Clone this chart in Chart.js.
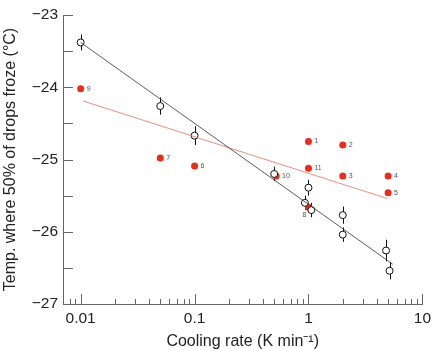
<!DOCTYPE html>
<html>
<head>
<meta charset="utf-8">
<script src="https://cdn.jsdelivr.net/npm/chart.js@4.4.0/dist/chart.umd.min.js"></script>
<style>
  html, body { margin: 0; padding: 0; background: #fff; }
  #wrap { width: 436px; height: 351px; position: relative; }
</style>
</head>
<body>
<div id="wrap"><canvas id="chart"></canvas></div>
<script>
// open circles (with error bars)
const openX = [0.01, 0.05, 0.1, 0.5, 1, 0.93, 1.06, 2, 2, 4.8, 5.15];
const openY = [-23.38, -24.26, -24.67, -25.20, -25.39, -25.60, -25.70, -25.77, -26.04, -26.26, -26.54];
const openErr = [0.11, 0.12, 0.13, 0.1, 0.11, 0.1, 0.1, 0.12, 0.1, 0.15, 0.12];

// red numbered points
const redLabels = ['1', '2', '3', '4', '5', '6', '7', '8', '9', '10', '11'];
const redX = [1, 2, 2, 5, 5, 0.1, 0.05, 1, 0.01, 0.52, 1];
const redY = [-24.75, -24.80, -25.23, -25.23, -25.46, -25.09, -24.98, -25.66, -24.02, -25.23, -25.12];

// fit lines
const blackFitX = [0.01, 5.5];
const blackFitY = [-23.38, -26.45];
const redFitX = [0.0105, 4.9];
const redFitY = [-24.19, -25.54];

const xMajor = [0.01, 0.1, 1, 10];
const xMinor = [0.007, 0.008, 0.009, 0.02, 0.03, 0.04, 0.05, 0.06, 0.07, 0.08, 0.09,
  0.2, 0.3, 0.4, 0.5, 0.6, 0.7, 0.8, 0.9, 2, 3, 4, 5, 6, 7, 8, 9];
const yTicks = [-27, -26.5, -26, -25.5, -25, -24.5, -24, -23.5, -23];

const pts = (xs, ys) => xs.map((x, i) => ({ x: x, y: ys[i] }));
const FONT = '"Liberation Sans", Arial, Helvetica, sans-serif';
const AXIS = '#666';

// inward ticks, error bars and point numbers
const extras = {
  id: 'extras',
  beforeDatasetsDraw(chart) {
    const ctx = chart.ctx, xs = chart.scales.x, ys = chart.scales.y;
    ctx.save();
    ctx.strokeStyle = '#111';
    ctx.lineWidth = 1;
    openX.forEach((x, i) => {
      const px = Math.round(xs.getPixelForValue(x)) + 0.5;
      ctx.beginPath();
      ctx.moveTo(px, ys.getPixelForValue(openY[i] + openErr[i]));
      ctx.lineTo(px, ys.getPixelForValue(openY[i] - openErr[i]));
      ctx.stroke();
    });
    ctx.restore();
  },
  afterDraw(chart) {
    const ctx = chart.ctx, xs = chart.scales.x, ys = chart.scales.y;
    const a = chart.chartArea;
    ctx.save();
    ctx.strokeStyle = AXIS;
    ctx.lineWidth = 1;
    ctx.beginPath();
    xMajor.forEach(v => {
      const px = Math.round(xs.getPixelForValue(v)) + 0.5;
      ctx.moveTo(px, a.bottom); ctx.lineTo(px, a.bottom - 10);
    });
    xMinor.forEach(v => {
      const px = Math.round(xs.getPixelForValue(v)) + 0.5;
      ctx.moveTo(px, a.bottom); ctx.lineTo(px, a.bottom - 5);
    });
    yTicks.forEach(v => {
      const py = Math.round(ys.getPixelForValue(v)) + 0.5;
      ctx.moveTo(a.left, py); ctx.lineTo(a.left + 10, py);
    });
    ctx.stroke();

    ctx.fillStyle = '#555';
    ctx.font = '7px ' + FONT;
    ctx.textBaseline = 'middle';
    redLabels.forEach((lab, i) => {
      const px = xs.getPixelForValue(redX[i]);
      const py = ys.getPixelForValue(redY[i]);
      if (lab === '8') {
        ctx.textAlign = 'right';
        ctx.fillText(lab, px - 2, py + 8);
      } else {
        ctx.textAlign = 'left';
        ctx.fillText(lab, px + 6, py);
      }
    });
    ctx.restore();
  }
};

new Chart(document.getElementById('chart'), {
  type: 'scatter',
  data: {
    datasets: [
      {
        type: 'line',
        data: pts(blackFitX, blackFitY),
        borderColor: '#333',
        borderWidth: 0.8,
        pointRadius: 0,
        fill: false
      },
      {
        type: 'line',
        data: pts(redFitX, redFitY),
        borderColor: '#f07060',
        borderWidth: 0.8,
        pointRadius: 0,
        fill: false
      },
      {
        data: pts(openX, openY),
        pointStyle: 'circle',
        pointRadius: 3.5,
        backgroundColor: '#fff',
        borderColor: '#111',
        borderWidth: 1
      },
      {
        data: pts(redX, redY),
        pointStyle: 'circle',
        pointRadius: 3.5,
        backgroundColor: '#ee2a1b',
        borderColor: '#ee2a1b',
        borderWidth: 0
      }
    ]
  },
  options: {
    responsive: true,
    maintainAspectRatio: false,
    animation: false,
    layout: { padding: { top: 15, right: 10, left: 0, bottom: 0 } },
    plugins: {
      legend: { display: false },
      tooltip: { enabled: false }
    },
    scales: {
      x: {
        type: 'logarithmic',
        min: 0.007,
        max: 10,
        afterBuildTicks: (scale) => { scale.ticks = xMajor.map(v => ({ value: v })); },
        afterFit: (scale) => { scale.height = 47; },
        grid: { display: false, drawTicks: false },
        border: { display: true, color: AXIS, width: 1 },
        ticks: {
          padding: 5,
          color: '#222',
          font: { family: FONT, size: 15.5 },
          maxRotation: 0,
          autoSkip: false,
          callback: (v) => String(v)
        },
        title: {
          display: true,
          text: 'Cooling rate (K min\u207B\u00B9)',
          color: '#222',
          font: { family: FONT, size: 16 },
          padding: { top: 0, bottom: 0 }
        }
      },
      y: {
        min: -27,
        max: -23,
        afterBuildTicks: (scale) => { scale.ticks = [-27, -26, -25, -24, -23].map(v => ({ value: v })); },
        afterFit: (scale) => { scale.width = 63; },
        grid: { display: false, drawTicks: false },
        border: { display: true, color: AXIS, width: 1 },
        ticks: {
          padding: 5,
          color: '#222',
          font: { family: FONT, size: 15.5 },
          callback: (v) => '\u2212' + Math.abs(v)
        },
        title: {
          display: true,
          text: 'Temp. where 50% of drops froze (\u00B0C)',
          color: '#222',
          font: { family: FONT, size: 16 },
          padding: { top: 1, bottom: 0 }
        }
      }
    }
  },
  plugins: [extras]
});
</script>
</body>
</html>
